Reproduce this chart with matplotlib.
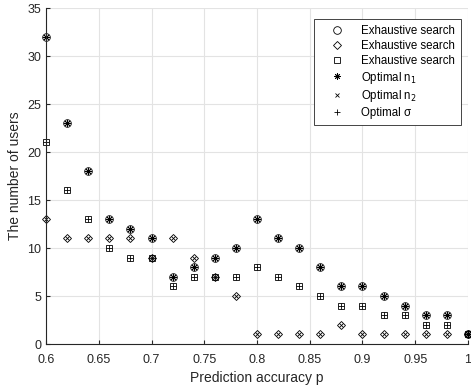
import matplotlib
matplotlib.use("Agg")
import matplotlib.pyplot as plt
import numpy as np

plt.rcParams['font.family'] = ['Liberation Sans', 'DejaVu Sans']

p = [0.60, 0.62, 0.64, 0.66, 0.68, 0.70, 0.72, 0.74, 0.76, 0.78, 0.80,
     0.82, 0.84, 0.86, 0.88, 0.90, 0.92, 0.94, 0.96, 0.98, 1.00]
users_a = [32, 23, 18, 13, 12, 11, 7, 8, 9, 10, 13, 11, 10, 8, 6, 6, 5, 4, 3, 3, 1]
users_b = [13, 11, 11, 11, 11, 9, 11, 9, 7, 5, 1, 1, 1, 1, 2, 1, 1, 1, 1, 1, 1]
users_c = [21, 16, 13, 10, 9, 9, 6, 7, 7, 7, 8, 7, 6, 5, 4, 4, 3, 3, 2, 2, 1]

labels = ['Exhaustive search', 'Exhaustive search', 'Exhaustive search',
          'Optimal n$_1$', 'Optimal n$_2$', 'Optimal σ']
xticks = [0.6, 0.65, 0.7, 0.75, 0.8, 0.85, 0.9, 0.95, 1.0]
xticklabels = ['0.6', '0.65', '0.7', '0.75', '0.8', '0.85', '0.9', '0.95', '1']
yticks = [0, 5, 10, 15, 20, 25, 30, 35]

fig = plt.figure(figsize=(4.71, 3.91), dpi=100)
ax = fig.add_axes([0.0977, 0.1202, 0.8959, 0.8593])

ms = 5.5
mew = 0.6
kw = dict(linestyle='none', color='black', markeredgecolor='black', markeredgewidth=mew, clip_on=False)
ax.plot(p, users_a, marker='o', markerfacecolor='none', markersize=ms, label=labels[0], **kw)
ax.plot(p, users_b, marker='D', markerfacecolor='none', markersize=ms * 0.78, label=labels[1], **kw)
ax.plot(p, users_c, marker='s', markerfacecolor='none', markersize=ms * 0.85, label=labels[2], **kw)
ax.plot(p, users_a, marker=(8, 2, 0), markersize=ms * 0.85, label=labels[3], **kw)
ax.plot(p, users_b, marker='x', markersize=ms * 0.6, label=labels[4], **kw)
ax.plot(p, users_c, marker='+', markersize=ms * 0.8, label=labels[5], **kw)

ax.set_xlim(0.6, 1.0)
ax.set_ylim(0, 35)
ax.set_xticks(xticks)
ax.set_xticklabels(xticklabels)
ax.set_yticks(yticks)
ax.grid(True, color='#e3e3e3', linewidth=0.8)
ax.set_axisbelow(True)
for s in ['top', 'right']:
    ax.spines[s].set_visible(False)
for s in ['left', 'bottom']:
    ax.spines[s].set_color('#262626')
    ax.spines[s].set_linewidth(0.8)
ax.tick_params(direction='in', length=3, width=0.8, colors='#262626', labelsize=9, labelcolor='#262626')
ax.tick_params(axis='x', pad=7)
ax.set_xlabel('Prediction accuracy p', fontsize=10, color='#262626', labelpad=4)
ax.set_ylabel('The number of users', fontsize=10, color='#262626', labelpad=4)

leg = ax.legend(loc='upper right', bbox_to_anchor=(0.983, 0.967), borderaxespad=0,
                fontsize=8.3, frameon=True, fancybox=False, handlelength=3.0,
                handletextpad=0.6, labelspacing=0.25, borderpad=0.5)
leg.get_frame().set_edgecolor('#262626')
leg.get_frame().set_linewidth(0.6)
leg.get_frame().set_alpha(1)

fig.savefig('out.png', dpi=100)
